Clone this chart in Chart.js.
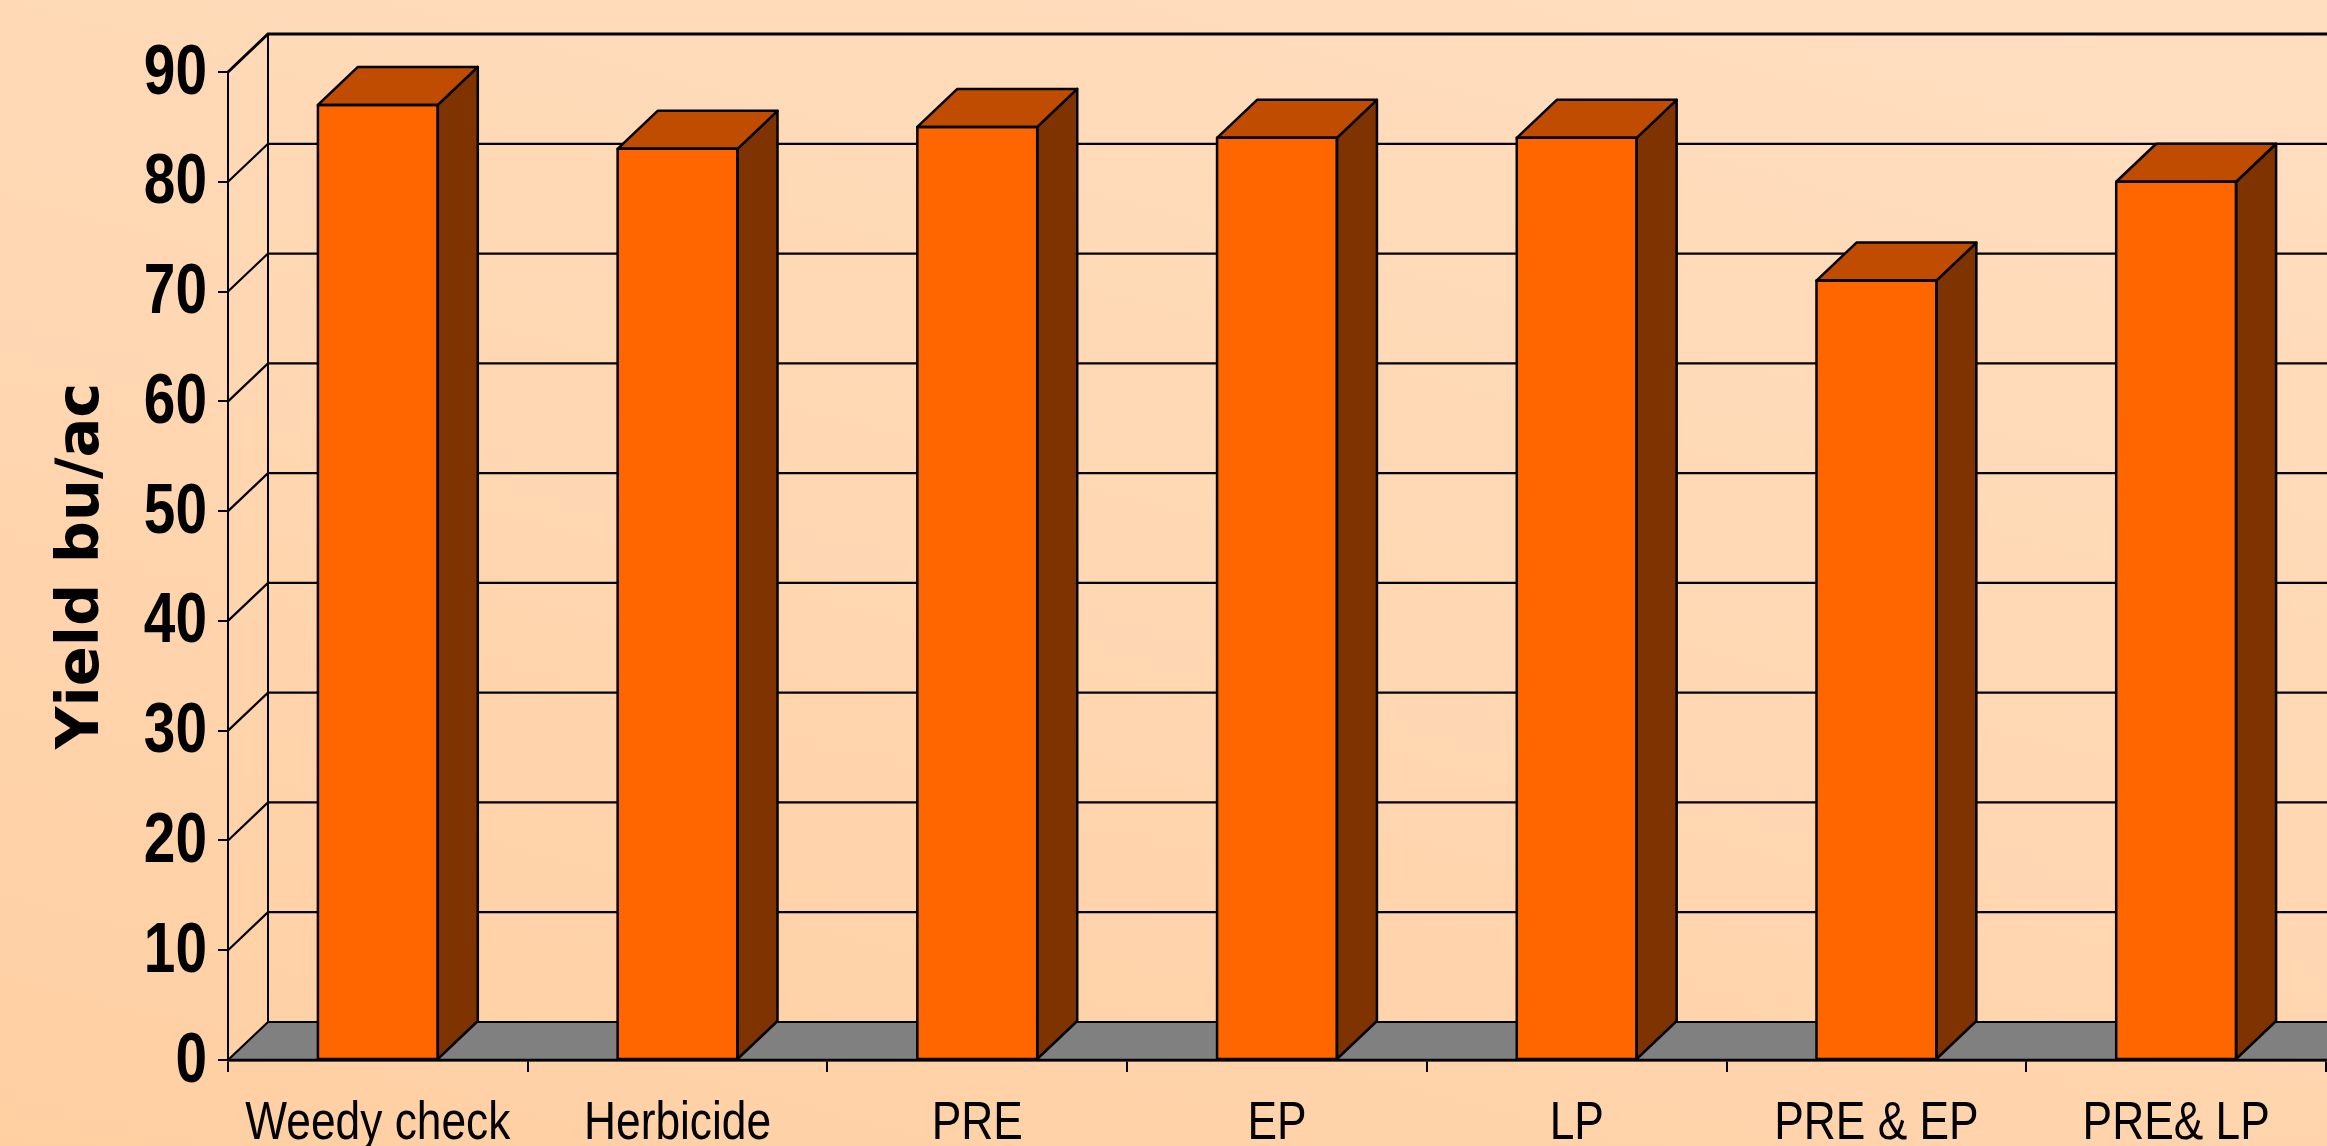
<!DOCTYPE html>
<html>
<head>
<meta charset="utf-8">
<script src="https://cdn.jsdelivr.net/npm/chart.js@4.4.1/dist/chart.umd.min.js"></script>
<style>
  html, body { margin: 0; padding: 0; }
  body {
    width: 2327px; height: 1146px; overflow: hidden;
    background: linear-gradient(195deg, #FFDEC0 0%, #FFD8B4 45%, #FFCFA2 100%);
  }
  canvas { display: block; }
</style>
</head>
<body>
<canvas id="yieldChart" width="2327" height="1146"></canvas>
<script>
const categories = ['Weedy check', 'Herbicide', 'PRE', 'EP', 'LP', 'PRE & EP', 'PRE& LP'];
const yieldValues = [87, 83, 85, 84, 84, 71, 80];
const yMin = 0;
const yMax = 90;
const yStep = 10;

// depth of the fake 3D box, in pixels
const DX = 40;
const DY = -38;

// narrow (condensed) text: Liberation Sans squeezed horizontally
function narrowText(ctx, text, x, y, size, weight, align, baseline, squeeze) {
    ctx.save();
    ctx.translate(x, y);
    ctx.scale(squeeze, 1);
    ctx.font = weight + ' ' + size + 'px "Liberation Sans", Arial, sans-serif';
    ctx.fillStyle = '#000';
    ctx.textAlign = align;
    ctx.textBaseline = baseline;
    ctx.fillText(text, 0, 0);
    ctx.restore();
}

const box3d = {
    id: 'box3d',
    beforeDatasetsDraw(chart) {
        const { ctx, chartArea: a, scales: { y } } = chart;
        ctx.save();
        // floor
        ctx.fillStyle = '#808080';
        ctx.beginPath();
        ctx.moveTo(a.left, a.bottom);
        ctx.lineTo(a.left + DX, a.bottom + DY);
        ctx.lineTo(a.right + DX + 10, a.bottom + DY);
        ctx.lineTo(a.right + 10, a.bottom);
        ctx.closePath();
        ctx.fill();

        // side wall diagonals + back wall gridlines
        ctx.strokeStyle = '#000';
        ctx.lineJoin = 'miter';
        y.ticks.forEach(t => {
            const py = y.getPixelForValue(t.value);
            ctx.lineWidth = t.value === yMax ? 3 : 2.2;
            ctx.beginPath();
            ctx.moveTo(a.left, py);
            ctx.lineTo(a.left + DX, py + DY);
            ctx.lineTo(a.right + DX + 10, py + DY);
            ctx.stroke();
        });
        ctx.lineWidth = 2;
        ctx.beginPath();
        ctx.moveTo(a.left + DX, a.top + DY);
        ctx.lineTo(a.left + DX, a.bottom + DY);
        ctx.stroke();

        // front edge of the floor
        ctx.lineWidth = 2.5;
        ctx.beginPath();
        ctx.moveTo(a.left, a.bottom);
        ctx.lineTo(a.right + 10, a.bottom);
        ctx.stroke();
        ctx.restore();
    },
    afterDatasetsDraw(chart) {
        const { ctx } = chart;
        const meta = chart.getDatasetMeta(0);
        ctx.save();
        ctx.strokeStyle = '#000';
        ctx.lineWidth = 2.5;
        ctx.lineJoin = 'round';
        meta.data.forEach(bar => {
            const { x, y, base, width } = bar.getProps(['x', 'y', 'base', 'width'], true);
            const l = x - width / 2;
            const r = x + width / 2;
            // side face
            ctx.fillStyle = '#7F3300';
            ctx.beginPath();
            ctx.moveTo(r, y);
            ctx.lineTo(r + DX, y + DY);
            ctx.lineTo(r + DX, base + DY);
            ctx.lineTo(r, base);
            ctx.closePath();
            ctx.fill();
            ctx.stroke();
            // top face
            ctx.fillStyle = '#BF4C00';
            ctx.beginPath();
            ctx.moveTo(l, y);
            ctx.lineTo(l + DX, y + DY);
            ctx.lineTo(r + DX, y + DY);
            ctx.lineTo(r, y);
            ctx.closePath();
            ctx.fill();
            ctx.stroke();
            // front face outline
            ctx.strokeRect(l, y, width, base - y);
        });
        ctx.restore();
    },
    afterDraw(chart) {
        const { ctx, chartArea: a, scales: { x, y } } = chart;
        // value axis labels
        y.ticks.forEach(t => {
            const py = y.getPixelForValue(t.value);
            narrowText(ctx, String(t.value), a.left - 21, py + 2, 71, 'bold', 'right', 'middle', 0.8);
        });
        // category labels
        x.ticks.forEach((t, i) => {
            const px = x.getPixelForValue(i);
            narrowText(ctx, categories[i], px, 1139, 54, 'normal', 'center', 'alphabetic', 0.82);
        });
    }
};

new Chart(document.getElementById('yieldChart').getContext('2d'), {
    type: 'bar',
    data: {
        labels: categories,
        datasets: [{
            label: 'Yield',
            data: yieldValues,
            backgroundColor: '#FF6600',
            borderWidth: 0,
            categoryPercentage: 1,
            barPercentage: 0.4
        }]
    },
    options: {
        responsive: false,
        animation: false,
        layout: { padding: { top: 72, right: 1, left: 0, bottom: 0 } },
        plugins: {
            legend: { display: false },
            tooltip: { enabled: false }
        },
        scales: {
            x: {
                offset: true,
                grid: { offset: true, drawOnChartArea: false, drawTicks: true, tickLength: 12, color: '#000', lineWidth: 2 },
                border: { display: true, color: '#000', width: 2.5 },
                ticks: { display: false, autoSkip: false, maxRotation: 0 },
                afterFit: s => { s.height = 86; }
            },
            y: {
                min: yMin,
                max: yMax,
                ticks: { display: false, stepSize: yStep },
                grid: { drawOnChartArea: false, drawTicks: true, tickLength: 10, color: '#000', lineWidth: 2 },
                border: { display: true, color: '#000', width: 2 },
                title: {
                    display: true, text: 'Yield bu/ac', color: '#000',
                    font: { family: '"DejaVu Sans", sans-serif', size: 59, weight: 'bold' },
                    padding: { top: 47, bottom: 0 }
                },
                afterFit: s => { s.width = 228; }
            }
        }
    },
    plugins: [box3d]
});
</script>
</body>
</html>
